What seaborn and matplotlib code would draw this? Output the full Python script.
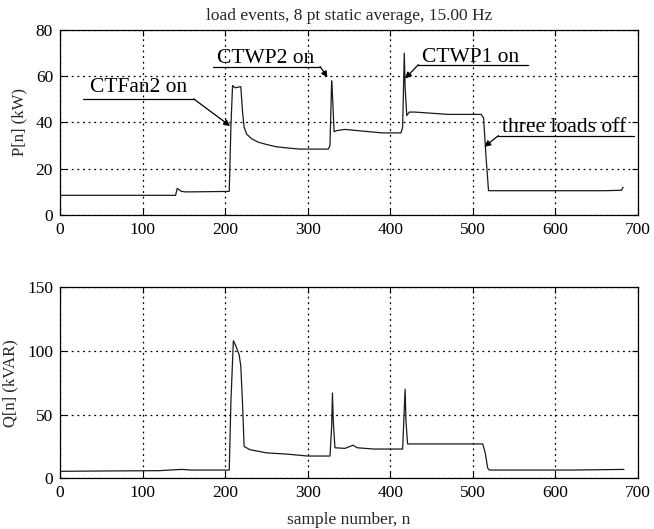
import numpy as np
import pandas as pd
import matplotlib
matplotlib.use("Agg")
import matplotlib.pyplot as plt
import seaborn as sns

# ---- data ----
p_n = [1, 140, 142, 144, 147, 152, 160, 205, 207, 209, 212, 219, 221, 223, 226,
       232, 240, 250, 262, 275, 290, 305, 325, 327, 329, 330, 332, 335, 345, 360,
       375, 390, 405, 413, 415, 417, 418, 420, 423, 430, 450, 470, 490, 510, 513,
       516, 519, 540, 580, 620, 660, 680, 682]
p_kw = [8.5, 8.5, 11.5, 11.0, 10.2, 10.0, 10.0, 10.2, 38.0, 56.0, 55.0, 55.5, 45.0,
        38.0, 35.0, 33.0, 31.5, 30.5, 29.5, 29.0, 28.5, 28.5, 28.5, 30.0, 58.0,
        52.0, 36.0, 36.5, 37.0, 36.5, 36.0, 35.5, 35.5, 35.5, 38.0, 70.0, 55.0,
        43.0, 44.5, 44.5, 44.0, 43.5, 43.5, 43.5, 42.0, 25.0, 10.5, 10.5, 10.5,
        10.5, 10.5, 10.7, 12.0]

q_n = [1, 60, 120, 147, 160, 205, 207, 210, 213, 217, 219, 221, 223, 230, 250, 275,
       300, 327, 329, 330, 331, 333, 345, 355, 360, 380, 400, 415, 417, 418, 419,
       421, 440, 470, 500, 512, 515, 518, 520, 560, 620, 683]
q_kvar = [5.5, 5.8, 6.0, 7.0, 6.5, 6.5, 60.0, 108.0, 104.0, 97.0, 88.0, 60.0, 25.0,
          22.5, 20.0, 19.0, 17.5, 17.5, 40.0, 67.0, 45.0, 24.0, 23.5, 26.0, 24.0,
          23.0, 23.0, 23.0, 55.0, 70.0, 45.0, 27.0, 27.0, 27.0, 27.0, 27.0, 20.0,
          8.0, 6.5, 6.5, 6.5, 7.0]

x_ticks = [0, 100, 200, 300, 400, 500, 600, 700]
p_ticks = [0, 20, 40, 60, 80]
q_ticks = [0, 50, 100, 150]

# annotation: label, underline x-start, underline x-end, underline y, leader start x, tip (x, y), text x, text baseline y
annotations = [
    ("CTFan2 on", 28, 162, 50.2, 162, (206, 38.5), 36, 53.3),
    ("CTWP2 on", 185, 315, 64.2, 315, (324, 59.5), 190, 65.8),
    ("CTWP1 on", 434, 567, 65.0, 434, (418, 59.0), 438, 66.2),
    ("three loads off", 531, 695, 34.3, 531, (514, 29.5), 535, 35.8),
]

title = "load events, 8 pt static average, 15.00 Hz"

sns.set_theme(style="white")
plt.rcParams["font.family"] = ["Liberation Serif", "DejaVu Serif"]

fig = plt.figure(figsize=(6.54, 5.29), dpi=100)
ax1 = fig.add_axes([0.0917, 0.5936, 0.8838, 0.3497])
ax2 = fig.add_axes([0.0917, 0.0958, 0.8838, 0.3611])

dfp = pd.DataFrame({"n": p_n, "P": p_kw})
dfq = pd.DataFrame({"n": q_n, "Q": q_kvar})

sns.lineplot(data=dfp, x="n", y="P", ax=ax1, color="#1a1a1a", lw=0.9,
             estimator=None, sort=False)
sns.lineplot(data=dfq, x="n", y="Q", ax=ax2, color="#1a1a1a", lw=0.9,
             estimator=None, sort=False)

for ax, yt, lim in ((ax1, p_ticks, (0, 80)), (ax2, q_ticks, (0, 150))):
    ax.set_xlim(0, 700)
    ax.set_ylim(*lim)
    ax.set_xticks(x_ticks)
    ax.set_yticks(yt)
    ax.grid(True, color="black", linestyle=(0, (1.5, 3.0)), lw=0.9)
    ax.tick_params(direction="in", length=4, width=0.8, top=True, right=True,
                   bottom=True, left=True, labelsize=12.5, colors="black",
                   pad=5)
    for s in ax.spines.values():
        s.set_color("black")
        s.set_linewidth(0.9)
    ax.set_facecolor("white")

ax1.set_xlabel("")
ax1.set_ylabel("P[n] (kW)", fontsize=12, labelpad=6)
ax2.set_ylabel("Q[n] (kVAR)", fontsize=12, labelpad=6)
ax2.set_xlabel("sample number, n", fontsize=12.5, labelpad=8)
ax1.set_title(title, fontsize=12.5, pad=7)

for label, ux0, ux1, uy, lx, tip, tx, ty in annotations:
    ax1.plot([ux0, ux1], [uy, uy], color="black", lw=0.9)
    ax1.annotate("", xy=tip, xytext=(lx, uy),
                 arrowprops=dict(arrowstyle="-|>", color="black", lw=0.9,
                                 mutation_scale=9, shrinkA=0, shrinkB=0))
    ax1.text(tx, ty, label, fontsize=15.5, va="baseline", ha="left",
             color="black")

fig.savefig("out.png", dpi=100, facecolor="white")
